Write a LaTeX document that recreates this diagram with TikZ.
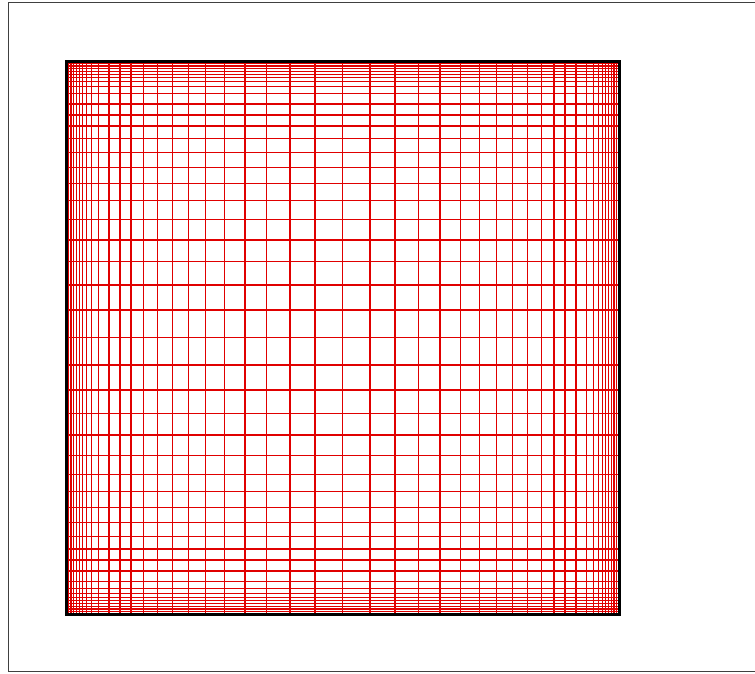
\documentclass[tikz,border=0pt]{standalone}
\usepackage{tikz}
\tikzstyle{meshline}=[draw=red!88!black,line width=1.3pt]
\tikzstyle{wall}=[draw=black,line width=3pt]
\tikzstyle{frame}=[draw=black!75,line width=1pt]

\begin{document}
\begin{tikzpicture}[x=1pt,y=-1pt]
\clip (0,0) rectangle (755,673);
% outer frame
\draw[frame] (8,2.5) rectangle (800,671.5);
% stretched mesh, mirrored from both walls
\foreach \d in {2.5,5,7.7,10.7,13.5,16.7,20.5,25.5,32.3,43,54,65,77.7,91.7,106.3,122.7,139.7,158.7,179,200.5,224,249} {
  \draw[meshline] (66+\d,61) -- (66+\d,614);
  \draw[meshline] (619-\d,61) -- (619-\d,614);
  \draw[meshline] (66,61+\d) -- (619,61+\d);
  \draw[meshline] (66,614-\d) -- (619,614-\d);
}
\draw[meshline] (342.5,61) -- (342.5,614);
\draw[meshline] (66,337.5) -- (619,337.5);
% walls
\draw[wall] (66,61) rectangle (619,614);
\end{tikzpicture}
\end{document}
